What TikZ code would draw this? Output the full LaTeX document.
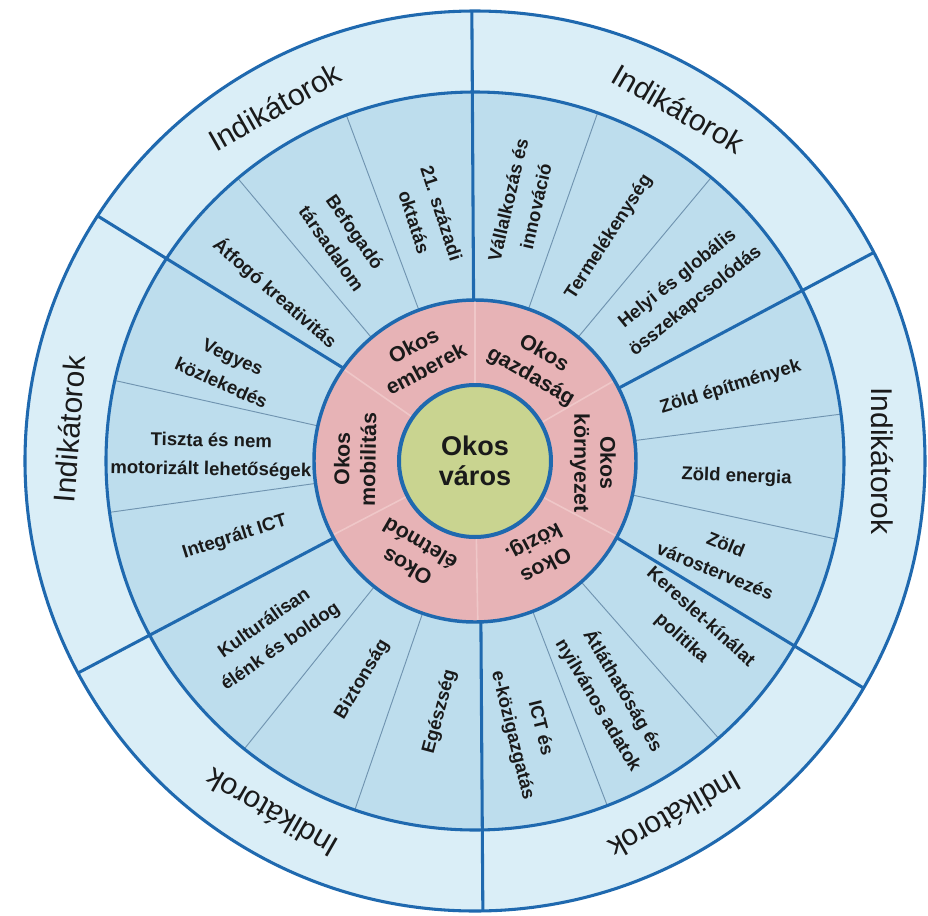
\documentclass[tikz,border=0pt]{standalone}
\usepackage{fontspec}
\setmainfont{Liberation Sans}
\definecolor{outerfill}{HTML}{DAEEF7}
\definecolor{bluefill}{HTML}{BDDDED}
\definecolor{pinkfill}{HTML}{E7B3B6}
\definecolor{greenfill}{HTML}{C9D490}
\definecolor{linecol}{HTML}{1F69AF}
\definecolor{thincol}{HTML}{7094B0}
\definecolor{pinkline}{HTML}{EFC7C8}
\definecolor{txt}{HTML}{1A1A1A}
\tikzset{
  indlabel/.style={font=\fontsize{13.9}{21.4}\selectfont\bfseries, align=center, inner sep=0pt, text=txt},
  catlabel/.style={font=\fontsize{16}{19.5}\selectfont\bfseries, align=center, inner sep=0pt, text=txt},
  outlabel/.style={font=\fontsize{22.5}{24}\selectfont, inner sep=0pt, text=txt},
  mainline/.style={draw=linecol, line width=2.3pt},
  thinline/.style={draw=thincol, line width=0.7pt},
  pinkdiv/.style={draw=pinkline, line width=1.2pt},
}
\begin{document}
\begin{tikzpicture}[x=0.75pt,y=0.75pt]
\fill[white] (-475,-454) rectangle (453,461);
\useasboundingbox (-475,-454) rectangle (453,461);
% rings
\fill[outerfill] (0,0) circle[radius=450];
\fill[bluefill] (0,0) circle[radius=369];
\fill[pinkfill] (0,0) circle[radius=161];
\fill[greenfill] (0,0) circle[radius=76];
% thin dividers in indicator ring
\foreach \a in {110.4,130,167.4,188,231.3,251,291,311.3,347.8,7.3,50.2,70.6}
  \draw[thinline] (\a:161) -- (\a:369);
% pink ring dividers
\foreach \a in {90,145,207.5,271,332,30}
  \draw[pinkdiv] (\a:76) -- (\a:161);
% main dividers
\draw[mainline] (90.5:161) -- (90.4:450);
\draw[mainline] (26.9:161) -- (27.6:450);
\draw[mainline] (144.8:161) -- (147:450);
\draw[mainline] (208.6:161) -- (208.1:450);
\draw[mainline] (272.1:161) -- (271:450);
\draw[mainline] (331.6:161) -- (329.7:450);
% circles
\draw[linecol, line width=2.3pt] (0,0) circle[radius=450];
\draw[linecol, line width=2.3pt] (0,0) circle[radius=369];
\draw[linecol, line width=2.6pt] (0,0) circle[radius=161];
\draw[linecol, line width=3pt] (0,0) circle[radius=76];
% centre
\node[font=\fontsize{20.3}{22.5}\selectfont\bfseries, align=center, inner sep=0pt, text=txt] (center) at (0,0) {Okos\\város};
% categories
\node[catlabel, rotate=28] (c1) at (118:118) {Okos\\emberek};
\node[catlabel, rotate=-30] (c2) at (57:114) {Okos\\gazdaság};
\node[catlabel, rotate=-90] (c3) at (-1:118) {Okos\\környezet};
\node[catlabel, rotate=208] (c4) at (305:112) {Okos\\közig.};
\node[catlabel, rotate=150] (c5) at (237:113) {Okos\\életmód};
\node[catlabel, rotate=89] (c6) at (179:120) {Okos\\mobilitás};
% indicators
\node[indlabel, rotate=-72] (i1) at (100.9:248) {21. századi\\oktatás};
\node[indlabel, rotate=-55] (i2) at (120.8:257) {Befogadó\\társadalom};
\node[indlabel, rotate=-41] (i3) at (140:261) {Átfogó kreativitás};
\node[indlabel, rotate=77] (i4) at (79.7:262) {Vállalkozás és\\innováció};
\node[indlabel, rotate=57] (i5) at (59.1:261) {Termelékenység};
\node[indlabel, rotate=39] (i6) at (38.9:272) {Helyi és globális\\összekapcsolódás};
\node[indlabel, rotate=17] (i7) at (16.1:266) {Zöld építmények};
\node[indlabel, rotate=-2] (i8) at (-3.5:262) {Zöld energia};
\node[indlabel, rotate=-22] (i9) at (-21.5:264) {Zöld\\várostervezés};
\node[indlabel, rotate=-42] (i10) at (-37.7:273) {Kereslet-kínálat\\politika};
\node[indlabel, rotate=-59.5] (i11) at (-60.1:273) {Átláthatóság és\\nyilvános adatok};
\node[indlabel, rotate=-76] (i12) at (-79.3:276) {ICT és\\e-közigazgatás};
\node[indlabel, rotate=75] (i13) at (262:253) {Egészség};
\node[indlabel, rotate=59] (i14) at (242.7:246) {Biztonság};
\node[indlabel, rotate=35] (i15) at (220.7:267) {Kulturálisan\\élénk és boldog};
\node[indlabel, rotate=-24] (i16) at (159.9:264) {Vegyes\\közlekedés};
\node[indlabel, rotate=-1] (i17) at (178.9:264) {Tiszta és nem\\motorizált lehetőségek};
\node[indlabel, rotate=17.5] (i18) at (197.6:252) {Integrált ICT};
% outer ring
\node[outlabel, rotate=29.5] (o1) at (119.5:407) {Indikátorok};
\node[outlabel, rotate=-30] (o2) at (60:407) {Indikátorok};
\node[outlabel, rotate=-90] (o3) at (0:407) {Indikátorok};
\node[outlabel, rotate=209.5] (o4) at (299.5:407) {Indikátorok};
\node[outlabel, rotate=150] (o5) at (240:407) {Indikátorok};
\node[outlabel, rotate=85.5] (o6) at (175.5:407) {Indikátorok};
\end{tikzpicture}
\end{document}
